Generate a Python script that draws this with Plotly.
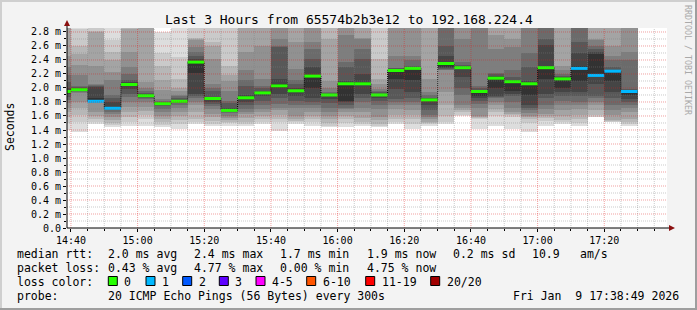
import pandas as pd
import plotly.graph_objects as go

# ---------------- data ----------------
DAY = "2026-01-09"
RANGE_START = "2026-01-09 14:38:49"
RANGE_END = "2026-01-09 17:38:49"
STEP_MIN = 5

col_start = ["14:35", "14:40", "14:45", "14:50", "14:55", "15:00", "15:05", "15:10", "15:15",
             "15:20", "15:25", "15:30", "15:35", "15:40", "15:45", "15:50", "15:55", "16:00",
             "16:05", "16:10", "16:15", "16:20", "16:25", "16:30", "16:35", "16:40", "16:45",
             "16:50", "16:55", "17:00", "17:05", "17:10", "17:15", "17:20", "17:25"]

median_ms = [1.95, 1.976, 1.81, 1.71, 2.05, 1.89, 1.776, 1.81, 2.37, 1.85, 1.68, 1.86, 1.93,
             2.03, 1.96, 2.17, 1.90, 2.06, 2.06, 1.90, 2.25, 2.28, 1.83, 2.35, 2.29, 1.95,
             2.14, 2.09, 2.06, 2.29, 2.13, 2.28, 2.18, 2.24, 1.95]

loss_pings = [0, 0, 1, 1, 0, 0, 0, 0, 0, 0, 0, 0, 0, 0, 0, 0, 0, 0, 0, 0, 0, 0, 0, 0, 0, 0,
              0, 0, 0, 0, 0, 1, 1, 1, 1]

# sorted ping times (ms) per 5-minute column, 20 pings each
smoke_1435 = [1.40, 1.50, 1.58, 1.65, 1.72, 1.78, 1.83, 1.87, 1.91, 1.94, 1.96, 2.00, 2.08, 2.18, 2.30, 2.45, 2.90, 3.00, 3.05, 3.10]
smoke_1440 = [1.37, 1.51, 1.62, 1.72, 1.80, 1.93, 1.94, 1.95, 1.96, 1.97, 1.99, 2.00, 2.01, 2.03, 2.18, 2.33, 2.48, 2.60, 2.84, 3.00]
smoke_1445 = [1.48, 1.52, 1.56, 1.60, 1.66, 1.79, 1.80, 1.805, 1.81, 1.815, 1.85, 2.02, 2.03, 2.04, 2.05, 2.32, 2.80, 2.82, 2.95, 3.10]
smoke_1450 = [1.44, 1.47, 1.50, 1.54, 1.58, 1.63, 1.66, 1.68, 1.70, 1.71, 1.72, 1.80, 1.86, 1.90, 2.11, 2.23, 2.40, 2.51, 2.68, 2.95]
smoke_1455 = [1.46, 1.52, 1.59, 1.66, 1.73, 1.80, 1.87, 1.92, 1.98, 2.03, 2.06, 2.09, 2.12, 2.20, 2.30, 2.51, 2.84, 2.86, 2.88, 3.10]
smoke_1500 = [1.45, 1.55, 1.61, 1.67, 1.73, 1.80, 1.84, 1.86, 1.88, 1.89, 1.90, 1.91, 1.93, 1.96, 2.00, 2.08, 2.92, 2.96, 3.00, 3.10]
smoke_1505 = [1.44, 1.47, 1.52, 1.56, 1.60, 1.65, 1.70, 1.74, 1.76, 1.77, 1.78, 1.79, 1.80, 1.82, 1.84, 1.97, 2.11, 2.32, 2.50, 2.80]
smoke_1510 = [1.41, 1.48, 1.54, 1.60, 1.65, 1.71, 1.75, 1.78, 1.80, 1.81, 1.82, 1.83, 1.85, 1.88, 1.90, 1.95, 2.00, 2.13, 2.44, 3.00]
smoke_1515 = [1.49, 1.52, 1.56, 1.65, 1.75, 1.80, 1.85, 1.88, 1.91, 2.22, 2.39, 2.42, 2.46, 2.52, 2.58, 2.68, 2.70, 2.72, 2.95, 3.10]
smoke_1520 = [1.46, 1.49, 1.53, 1.58, 1.63, 1.70, 1.74, 1.77, 1.80, 1.84, 1.86, 1.87, 1.95, 2.00, 2.06, 2.41, 2.60, 2.65, 2.88, 3.00]
smoke_1525 = [1.46, 1.50, 1.52, 1.54, 1.57, 1.60, 1.64, 1.66, 1.67, 1.68, 1.70, 1.72, 1.78, 1.82, 1.96, 2.10, 2.18, 2.32, 2.95, 3.05]
smoke_1530 = [1.46, 1.48, 1.51, 1.57, 1.63, 1.66, 1.70, 1.75, 1.80, 1.85, 1.87, 1.90, 2.03, 2.12, 2.25, 2.51, 2.95, 3.00, 3.05, 3.10]
smoke_1535 = [1.48, 1.51, 1.55, 1.60, 1.65, 1.70, 1.75, 1.82, 1.88, 1.92, 1.94, 1.96, 2.00, 2.03, 2.13, 2.60, 2.95, 3.00, 3.05, 3.10]
smoke_1540 = [1.39, 1.51, 1.56, 1.62, 1.68, 1.72, 1.77, 1.85, 1.91, 2.00, 2.05, 2.13, 2.59, 2.60, 2.70, 2.95, 3.00, 3.05, 3.10, 3.15]
smoke_1545 = [1.48, 1.51, 1.53, 1.56, 1.60, 1.72, 1.76, 1.82, 1.88, 1.95, 1.97, 2.00, 2.05, 2.11, 2.27, 2.65, 2.95, 3.00, 3.05, 3.10]
smoke_1550 = [1.45, 1.51, 1.55, 1.60, 1.66, 1.72, 1.76, 1.80, 1.85, 2.00, 2.19, 2.30, 2.41, 2.55, 2.65, 2.95, 3.00, 3.05, 3.10, 3.15]
smoke_1555 = [1.44, 1.46, 1.50, 1.55, 1.60, 1.66, 1.72, 1.78, 1.84, 1.89, 1.91, 1.92, 1.93, 1.94, 2.00, 2.10, 2.70, 2.95, 3.00, 3.10]
smoke_1600 = [1.44, 1.50, 1.56, 1.60, 1.65, 1.70, 1.72, 1.76, 1.80, 1.82, 2.07, 2.10, 2.30, 2.37, 2.75, 2.95, 3.00, 3.05, 3.10, 3.15]
smoke_1605 = [1.45, 1.49, 1.52, 1.57, 1.65, 1.72, 1.80, 1.86, 1.91, 2.04, 2.08, 2.20, 2.41, 2.55, 2.70, 2.72, 2.95, 3.00, 3.05, 3.10]
smoke_1610 = [1.44, 1.46, 1.49, 1.54, 1.58, 1.70, 1.76, 1.82, 1.86, 1.89, 1.91, 1.92, 1.94, 1.96, 1.99, 2.05, 2.13, 2.41, 2.95, 3.05]
smoke_1615 = [1.48, 1.51, 1.56, 1.62, 1.70, 1.76, 1.80, 1.84, 1.98, 2.13, 2.26, 2.27, 2.28, 2.29, 2.46, 2.95, 3.00, 3.05, 3.10, 3.15]
smoke_1620 = [1.42, 1.48, 1.56, 1.62, 1.68, 1.75, 1.80, 1.86, 1.94, 2.12, 2.29, 2.30, 2.32, 2.40, 2.46, 2.95, 3.00, 3.05, 3.10, 3.15]
smoke_1625 = [1.46, 1.48, 1.50, 1.52, 1.55, 1.58, 1.62, 1.68, 1.75, 1.82, 1.84, 1.85, 1.86, 1.90, 1.94, 2.13, 2.95, 3.00, 3.05, 3.10]
smoke_1630 = [1.48, 1.51, 1.60, 1.75, 1.94, 2.25, 2.26, 2.27, 2.28, 2.30, 2.36, 2.45, 2.60, 2.95, 3.00, 3.05, 3.10, 3.15, 3.20, 3.25]
smoke_1635 = [1.60, 1.62, 1.65, 1.68, 1.72, 1.75, 1.90, 2.00, 2.15, 2.28, 2.30, 2.31, 2.33, 2.37, 2.70, 2.95, 3.00, 3.05, 3.10, 3.15]
smoke_1640 = [1.42, 1.56, 1.57, 1.58, 1.60, 1.72, 1.77, 1.82, 1.85, 1.88, 1.96, 1.97, 2.00, 2.03, 2.95, 3.00, 3.05, 3.10, 3.15, 3.20]
smoke_1645 = [1.46, 1.60, 1.65, 1.70, 1.75, 1.80, 1.85, 1.87, 1.89, 2.00, 2.15, 2.17, 2.20, 2.22, 2.55, 2.75, 2.95, 3.00, 3.05, 3.10]
smoke_1650 = [1.42, 1.58, 1.61, 1.63, 1.65, 1.72, 1.80, 1.88, 1.91, 1.95, 2.10, 2.12, 2.15, 2.25, 2.58, 2.70, 2.95, 3.00, 3.05, 3.10]
smoke_1655 = [1.37, 1.50, 1.55, 1.58, 1.60, 1.64, 1.68, 1.72, 1.75, 1.90, 2.07, 2.10, 2.30, 2.50, 2.95, 3.00, 3.05, 3.10, 3.15, 3.20]
smoke_1700 = [1.46, 1.53, 1.57, 1.60, 1.63, 1.70, 1.75, 1.85, 1.91, 2.13, 2.30, 2.62, 2.70, 2.95, 3.00, 3.05, 3.10, 3.15, 3.20, 3.25]
smoke_1705 = [1.48, 1.51, 1.54, 1.60, 1.68, 1.75, 1.82, 1.88, 1.94, 2.00, 2.14, 2.15, 2.17, 2.20, 2.25, 2.32, 2.95, 3.00, 3.05, 3.10]
smoke_1710 = [1.46, 1.50, 1.55, 1.61, 1.70, 1.75, 1.80, 1.88, 1.94, 2.10, 2.32, 2.50, 2.65, 2.95, 3.00, 3.05, 3.10, 3.15, 3.20, 3.25]
smoke_1715 = [1.58, 1.59, 1.61, 1.68, 1.75, 1.80, 1.85, 1.89, 2.05, 2.19, 2.48, 2.51, 2.55, 2.60, 2.68, 2.70, 2.95, 3.00, 3.05, 3.10]
smoke_1720 = [1.51, 1.52, 1.53, 1.54, 1.61, 1.68, 1.75, 1.85, 1.94, 2.10, 2.25, 2.26, 2.30, 2.40, 2.46, 2.60, 2.95, 3.00, 3.05, 3.10]
smoke_1725 = [1.46, 1.49, 1.52, 1.56, 1.65, 1.72, 1.76, 1.80, 1.84, 1.90, 1.96, 1.97, 1.99, 2.40, 2.51, 2.95, 3.00, 3.05, 3.10, 3.15]

smoke_columns = [smoke_1435, smoke_1440, smoke_1445, smoke_1450, smoke_1455, smoke_1500, smoke_1505,
                 smoke_1510, smoke_1515, smoke_1520, smoke_1525, smoke_1530, smoke_1535, smoke_1540,
                 smoke_1545, smoke_1550, smoke_1555, smoke_1600, smoke_1605, smoke_1610, smoke_1615,
                 smoke_1620, smoke_1625, smoke_1630, smoke_1635, smoke_1640, smoke_1645, smoke_1650,
                 smoke_1655, smoke_1700, smoke_1705, smoke_1710, smoke_1715, smoke_1720, smoke_1725]

y_max = 2.857
y_tick_vals = [0.0, 0.2, 0.4, 0.6, 0.8, 1.0, 1.2, 1.4, 1.6, 1.8, 2.0, 2.2, 2.4, 2.6, 2.8]
y_tick_labels = ["0.0", "0.2 m", "0.4 m", "0.6 m", "0.8 m", "1.0 m", "1.2 m", "1.4 m", "1.6 m",
                 "1.8 m", "2.0 m", "2.2 m", "2.4 m", "2.6 m", "2.8 m"]
x_tick_labels = ["14:40", "15:00", "15:20", "15:40", "16:00", "16:20", "16:40", "17:00", "17:20"]

loss_labels = ["0", "1", "2", "3", "4-5", "6-10", "11-19", "20/20"]
loss_colors = ["#26ff00", "#00b8ff", "#0059ff", "#5e00ff", "#ff00ff", "#ff5500", "#ff0000", "#a10000"]

title_text = "Last 3 Hours from 65574b2b3e12 to 192.168.224.4"
rtt_stats = ["2.0 ms avg", "2.4 ms max", "1.7 ms min", "1.9 ms now", "0.2 ms sd", "10.9", "am/s"]
loss_stats = ["0.43 % avg", "4.77 % max", "0.00 % min", "4.75 % now"]
probe_text = "20 ICMP Echo Pings (56 Bytes) every 300s"
stamp_text = "Fri Jan\u00a0\u00a09 17:38:49 2026"

# ---------------- geometry helpers (pixel -> paper) ----------------
W, H = 697, 310
L, R, T, B = 67, 667, 28, 228
FONT = "DejaVu Sans Mono"


def px(x):
    return (x - L) / (R - L)


def py(y):
    return (B - y) / (B - T)


def loss_idx(n):
    if n <= 3:
        return n
    if n <= 5:
        return 4
    if n <= 10:
        return 5
    if n <= 19:
        return 6
    return 7


starts = [pd.Timestamp(f"{DAY} {t}") for t in col_start]
step = pd.Timedelta(minutes=STEP_MIN)
fmt = "%Y-%m-%d %H:%M:%S"
centers = [(s + step / 2).strftime(fmt) for s in starts]
ends = [(s + step).strftime(fmt) for s in starts]
starts_s = [s.strftime(fmt) for s in starts]

fig = go.Figure()

# smoke: nested areas between ping i and ping (21-i), inner ones darker
n_pings = 20
half = n_pings // 2
for ibot in range(1, half + 1):
    itop = n_pings + 1 - ibot
    g = int(190 / half * (half - ibot)) + 50
    color = f"rgb({g},{g},{g})"
    base = [col[ibot - 1] for col in smoke_columns]
    height = [col[itop - 1] - col[ibot - 1] for col in smoke_columns]
    fig.add_trace(go.Bar(x=centers, y=height, base=base, width=[STEP_MIN * 60000] * len(centers),
                         marker=dict(color=color, line=dict(width=0)), hoverinfo="skip",
                         showlegend=False))

# median step connector (dark dotted)
fig.add_trace(go.Scatter(x=starts_s + [ends[-1]], y=median_ms + [median_ms[-1]], mode="lines",
                         line=dict(color="#000000", width=1, dash="1px,1px", shape="hv"),
                         hoverinfo="skip", showlegend=False))

# coloured median segments by loss
for li, col in enumerate(loss_colors):
    xs, ys = [], []
    for s, e, m, n in zip(starts_s, ends, median_ms, loss_pings):
        if loss_idx(n) == li:
            xs += [s, e, None]
            ys += [m, m, None]
    if xs:
        fig.add_trace(go.Scatter(x=xs, y=ys, mode="lines", line=dict(color=col, width=3),
                                 hoverinfo="skip", showlegend=False))

shapes = []
# grid on top of the smoke
minor_c = "rgba(128,128,128,0.42)"
major_c = "rgba(222,30,30,0.42)"
for t in pd.date_range(f"{DAY} 14:40", f"{DAY} 17:35", freq="5min"):
    major = t.minute % 20 == 0
    shapes.append(dict(type="line", xref="x", yref="paper", x0=t.strftime(fmt), x1=t.strftime(fmt),
                       y0=0, y1=1, layer="above",
                       line=dict(color=major_c if major else minor_c, width=1, dash="1px,1px")))
for k in range(1, 29):
    v = k / 10
    major = k % 2 == 0
    shapes.append(dict(type="line", xref="paper", yref="y", x0=0, x1=1, y0=v, y1=v, layer="above",
                       line=dict(color=major_c if major else minor_c, width=1, dash="1px,1px")))

# axes with arrows
shapes.append(dict(type="line", xref="paper", yref="paper", x0=px(L), x1=px(671), y0=py(B), y1=py(B),
                   layer="above", line=dict(color="#000000", width=1)))
shapes.append(dict(type="line", xref="paper", yref="paper", x0=px(L), x1=px(L), y0=py(B), y1=py(24),
                   layer="above", line=dict(color="#000000", width=1)))
arrow_c = "#8b1010"
shapes.append(dict(type="path", xref="paper", yref="paper", layer="above",
                   path=f"M {px(675)},{py(B)} L {px(669)},{py(B - 3)} L {px(669)},{py(B + 3)} Z",
                   fillcolor=arrow_c, line=dict(color=arrow_c, width=0)))
shapes.append(dict(type="path", xref="paper", yref="paper", layer="above",
                   path=f"M {px(L)},{py(20)} L {px(L - 3)},{py(26)} L {px(L + 3)},{py(26)} Z",
                   fillcolor=arrow_c, line=dict(color=arrow_c, width=0)))

# frame
shapes.append(dict(type="rect", xref="paper", yref="paper", x0=px(0), x1=px(W), y0=py(0), y1=py(2),
                   fillcolor="#cfcfcf", line=dict(width=0), layer="above"))
shapes.append(dict(type="rect", xref="paper", yref="paper", x0=px(0), x1=px(2), y0=py(0), y1=py(H),
                   fillcolor="#cfcfcf", line=dict(width=0), layer="above"))
shapes.append(dict(type="rect", xref="paper", yref="paper", x0=px(0), x1=px(W), y0=py(H - 2), y1=py(H),
                   fillcolor="#9e9e9e", line=dict(width=0), layer="above"))
shapes.append(dict(type="rect", xref="paper", yref="paper", x0=px(W - 2), x1=px(W), y0=py(0), y1=py(H),
                   fillcolor="#9e9e9e", line=dict(width=0), layer="above"))

annotations = []


def txt(x, y, s, size=11.5, anchor="left", color="#000000", angle=0):
    annotations.append(dict(xref="paper", yref="paper", x=px(x), y=py(y), text=s, showarrow=False,
                            xanchor=anchor, yanchor="middle", textangle=angle, borderpad=0,
                            font=dict(family=FONT, size=size, color=color)))


txt(348.5, 19, title_text, size=13, anchor="center")
txt(10, 127, "Seconds", size=11.5, anchor="center", angle=-90)
txt(688, 60, "RRDTOOL / TOBI OETIKER", size=8.3, anchor="center", color="#a9a9a9", angle=90)

row1, row2, row3, row4 = 254.3, 268.3, 282.3, 296
txt(16, row1, "median rtt:")
for xx, s in zip([107, 193, 279, 365.7, 451.7, 530.7, 579.3], rtt_stats):
    txt(xx, row1, s)
txt(16, row2, "packet loss:")
for xx, s in zip([107, 193, 279, 365.7], loss_stats):
    txt(xx, row2, s)
txt(16, row3, "loss color:")
box_x = [108.3, 146, 182.7, 219.3, 256, 306.7, 365.7, 430.7]
for bx, lab, col in zip(box_x, loss_labels, loss_colors):
    shapes.append(dict(type="rect", xref="paper", yref="paper", x0=px(bx), x1=px(bx + 9),
                       y0=py(276.5), y1=py(285.5), fillcolor=col, layer="above",
                       line=dict(color="#000000", width=1)))
    txt(bx + 15, row3, lab)
txt(16, row4, "probe:")
txt(107, row4, probe_text)
txt(680, row4, stamp_text, anchor="right")

x_tick_vals = [f"{DAY} {t}:00" for t in x_tick_labels]

fig.update_layout(
    width=W, height=H, autosize=False,
    margin=dict(l=L, r=W - R, t=T, b=H - B, pad=0),
    paper_bgcolor="#f3f3f3", plot_bgcolor="#ffffff",
    barmode="overlay", bargap=0, showlegend=False,
    font=dict(family=FONT, size=10, color="#000000"),
    shapes=shapes, annotations=annotations,
    xaxis=dict(type="date", range=[RANGE_START, RANGE_END], showgrid=False, zeroline=False,
               showline=False, tickvals=x_tick_vals, ticktext=x_tick_labels,
               ticks="outside", ticklen=3, tickcolor="#000000",
               minor=dict(ticks="outside", ticklen=2, dtick=300000, tick0=f"{DAY} 14:40:00",
                          tickcolor="#000000", showgrid=False),
               tickfont=dict(family=FONT, size=10, color="#000000"), fixedrange=True),
    yaxis=dict(range=[0, y_max], showgrid=False, zeroline=False, showline=False,
               tickvals=y_tick_vals, ticktext=y_tick_labels,
               ticks="outside", ticklen=3, tickcolor="#000000",
               minor=dict(ticks="outside", ticklen=2, dtick=0.1, tick0=0,
                          tickcolor="#000000", showgrid=False),
               tickfont=dict(family=FONT, size=10, color="#000000"), fixedrange=True),
)

fig.write_html("out.html", config={"displayModeBar": False})
